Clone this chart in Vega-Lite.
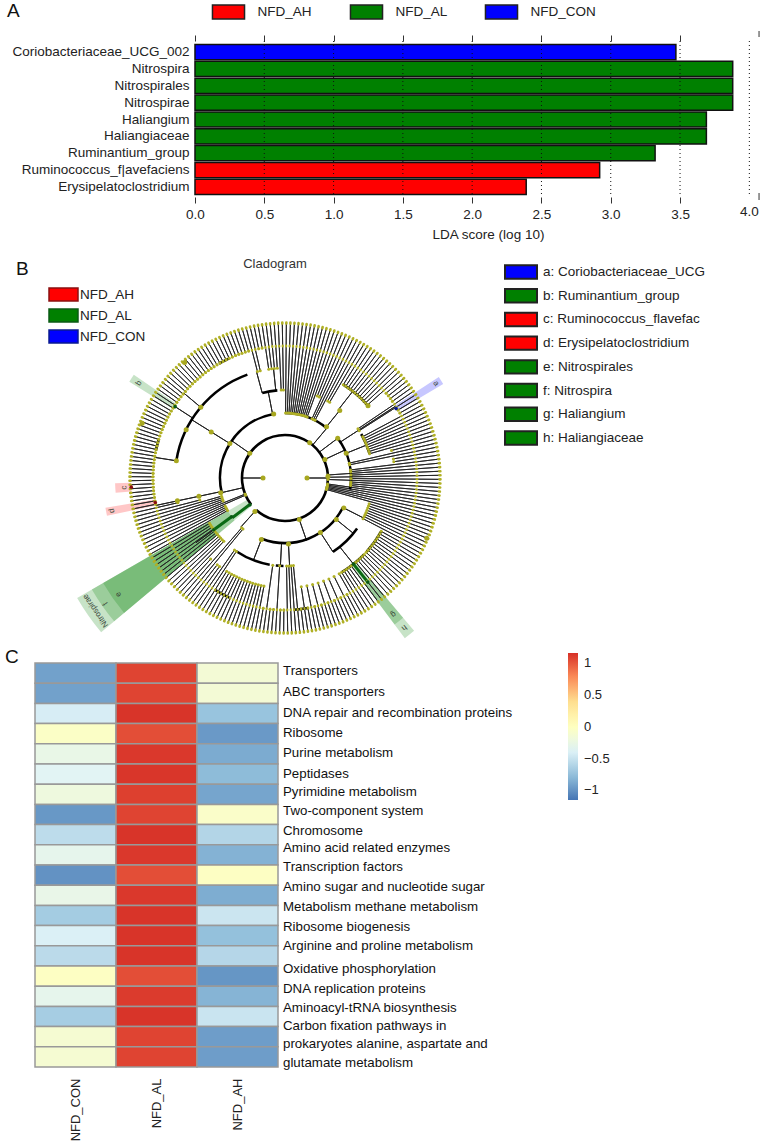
{
"$schema":"https://vega.github.io/schema/vega-lite/v6.json",
"padding":0,"background":"white","spacing":0,"bounds":"flush",
"config":{"view":{"stroke":null},"font":"Liberation Sans","axis":{"grid":false,"labelFont":"Liberation Sans","titleFont":"Liberation Sans"},"legend":{"labelFont":"Liberation Sans"},"title":{"font":"Liberation Sans"}},
"datasets":{
"lda":[{"taxon":"Coriobacteriaceae_UCG_002","score":3.47,"group":"NFD_CON"},{"taxon":"Nitrospira","score":3.88,"group":"NFD_AL"},{"taxon":"Nitrospirales","score":3.88,"group":"NFD_AL"},{"taxon":"Nitrospirae","score":3.88,"group":"NFD_AL"},{"taxon":"Haliangium","score":3.69,"group":"NFD_AL"},{"taxon":"Haliangiaceae","score":3.69,"group":"NFD_AL"},{"taxon":"Ruminantium_group","score":3.32,"group":"NFD_AL"},{"taxon":"Ruminococcus_f|avefaciens","score":2.92,"group":"NFD_AH"},{"taxon":"Erysipelatoclostridium","score":2.39,"group":"NFD_AH"}],
"ticks":[{"t":0.5},{"t":1},{"t":1.5},{"t":2},{"t":2.5},{"t":3},{"t":3.5},{"t":4}],
"wedges":[
{"a0":230,"a1":240,"r0":44,"r1":240,"group":"NFD_AL"},{"a0":230,"a1":240,"r0":66,"r1":223,"group":"NFD_AL"},{"a0":230,"a1":240,"r0":88,"r1":210,"group":"NFD_AL"},
{"a0":139.8,"a1":143.2,"r0":110,"r1":200,"group":"NFD_AL"},{"a0":139.8,"a1":143.2,"r0":133,"r1":183,"group":"NFD_AL"},
{"a0":56.7,"a1":59.3,"r0":131,"r1":184,"group":"NFD_CON"},
{"a0":301.7,"a1":304.3,"r0":131,"r1":183,"group":"NFD_AL"},
{"a0":265,"a1":268.2,"r0":154,"r1":170,"group":"NFD_AH"},
{"a0":258,"a1":260.6,"r0":132,"r1":182,"group":"NFD_AH"}],
"wedgeLabels":[{"a":58,"r":178,"t":"a"},{"a":303,"r":174,"t":"b"},{"a":266.6,"r":161,"t":"c"},{"a":259.3,"r":176,"t":"d"},{"a":235,"r":203,"t":"e"},{"a":235,"r":219,"t":"f"},{"a":235,"r":231,"t":"Nitrospirae"},{"a":141.5,"r":174,"t":"g"},{"a":141.5,"r":191,"t":"h"}],
"leaves":[{"a":0.5,"r":65},{"a":2,"r":65},{"a":3.5,"r":65},{"a":5,"r":65},{"a":6.5,"r":65},{"a":8,"r":65},{"a":9.5,"r":65},{"a":11,"r":65},{"a":12.5,"r":65},{"a":14,"r":65},{"a":15.5,"r":65},{"a":17,"r":65},{"a":18.5,"r":65},{"a":20,"r":65},{"a":21.5,"r":88},{"a":23,"r":88},{"a":24.5,"r":65},{"a":26,"r":65},{"a":27.5,"r":65},{"a":29,"r":88},
{"a":30.5,"r":88},{"a":32,"r":110},{"a":33.5,"r":110},{"a":35,"r":110},{"a":36.5,"r":110},{"a":38,"r":110},{"a":39.5,"r":110},{"a":41,"r":110},{"a":42.5,"r":110},{"a":44,"r":110},{"a":45.5,"r":110},{"a":47,"r":110},{"a":48.5,"r":110},
{"a":50,"r":132},{"a":51.5,"r":132},{"a":53,"r":132},{"a":54.5,"r":132},{"a":56,"r":88},{"a":57.5,"r":88},{"a":59,"r":132},{"a":60.5,"r":132},
{"a":62,"r":88},{"a":63.5,"r":88},{"a":65,"r":88},{"a":66.5,"r":88},{"a":68,"r":88},{"a":69.5,"r":88},{"a":71,"r":88},{"a":72.5,"r":88},{"a":74,"r":88},{"a":75.5,"r":110},
{"a":77,"r":66},{"a":78.5,"r":66},{"a":80,"r":110},{"a":81.5,"r":110},{"a":83,"r":66},{"a":84.5,"r":66},
{"a":86,"r":43},{"a":87.5,"r":66},{"a":89,"r":43},{"a":90.5,"r":66},{"a":92,"r":43},{"a":93.5,"r":66},{"a":95,"r":66},{"a":96.5,"r":66},{"a":98,"r":43},{"a":99.5,"r":43},{"a":101,"r":43},{"a":102.5,"r":43},{"a":104,"r":43},{"a":105.5,"r":43},
{"a":107,"r":88},{"a":108.5,"r":88},{"a":110,"r":88},{"a":111.5,"r":88},{"a":113,"r":88},{"a":114.5,"r":88},{"a":116,"r":88},{"a":117.5,"r":88},
{"a":119,"r":110},{"a":120.5,"r":110},{"a":122,"r":110},{"a":123.5,"r":110},{"a":125,"r":110},{"a":126.5,"r":110},{"a":128,"r":110},{"a":129.5,"r":110},{"a":131,"r":110},{"a":132.5,"r":110},{"a":134,"r":110},{"a":135.5,"r":110},{"a":137,"r":110},{"a":138.5,"r":110},{"a":140,"r":110},{"a":141.5,"r":110},{"a":143,"r":110},{"a":144.5,"r":110},{"a":146,"r":110},{"a":147.5,"r":110},{"a":149,"r":110},
{"a":150.5,"r":110},{"a":152,"r":132},{"a":153.5,"r":110},{"a":155,"r":132},{"a":156.5,"r":110},{"a":158,"r":132},{"a":159.5,"r":110},{"a":161,"r":132},{"a":162.5,"r":110},{"a":164,"r":132},{"a":165.5,"r":110},{"a":167,"r":132},{"a":168.5,"r":110},{"a":170,"r":132},{"a":171.5,"r":110},{"a":173,"r":132},{"a":174.5,"r":88},{"a":176,"r":88},{"a":177.5,"r":88},
{"a":179,"r":88},{"a":180.5,"r":132},{"a":182,"r":132},{"a":183.5,"r":88},{"a":185,"r":132},{"a":186.5,"r":132},{"a":188,"r":88},{"a":189.5,"r":132},
{"a":191,"r":110},{"a":192.5,"r":110},{"a":194,"r":110},{"a":195.5,"r":110},{"a":197,"r":110},{"a":198.5,"r":110},{"a":200,"r":110},{"a":201.5,"r":110},{"a":203,"r":110},{"a":204.5,"r":110},{"a":206,"r":110},{"a":207.5,"r":110},{"a":209,"r":110},{"a":210.5,"r":110},{"a":212,"r":110},
{"a":213.5,"r":88},{"a":215,"r":88},{"a":216.5,"r":110},{"a":218,"r":110},{"a":219.5,"r":66},{"a":221,"r":66},{"a":222.5,"r":110},{"a":224,"r":88},{"a":225.5,"r":88},{"a":227,"r":88},{"a":228.5,"r":88},{"a":230,"r":88},{"a":231.5,"r":88},
{"a":233,"r":88},{"a":234.5,"r":88},{"a":236,"r":88},{"a":237.5,"r":88},{"a":239,"r":88},{"a":240.5,"r":66},{"a":242,"r":66},{"a":243.5,"r":66},{"a":245,"r":66},
{"a":246.5,"r":43},{"a":248,"r":43},{"a":249.5,"r":66},{"a":251,"r":66},{"a":252.5,"r":66},{"a":254,"r":66},{"a":255.5,"r":88},{"a":257,"r":110},
{"a":258.5,"r":132},{"a":260,"r":132},{"a":261.5,"r":132},{"a":263,"r":132},{"a":264.5,"r":132},{"a":266,"r":132},{"a":267.5,"r":132},{"a":269,"r":132},{"a":270.5,"r":132},{"a":272,"r":132},{"a":273.5,"r":132},{"a":275,"r":132},{"a":276.5,"r":132},{"a":278,"r":132},{"a":279.5,"r":132},
{"a":281,"r":132},{"a":282.5,"r":132},{"a":284,"r":132},{"a":285.5,"r":132},{"a":287,"r":132},{"a":288.5,"r":132},{"a":290,"r":132},{"a":291.5,"r":132},{"a":293,"r":132},{"a":294.5,"r":132},{"a":296,"r":132},{"a":297.5,"r":132},{"a":299,"r":132},{"a":300.5,"r":132},{"a":302,"r":132},{"a":303.5,"r":132},{"a":305,"r":132},{"a":306.5,"r":132},{"a":308,"r":132},{"a":309.5,"r":132},{"a":311,"r":132},{"a":312.5,"r":132},{"a":314,"r":132},{"a":315.5,"r":132},{"a":317,"r":132},{"a":318.5,"r":132},{"a":320,"r":132},{"a":321.5,"r":132},{"a":323,"r":132},{"a":324.5,"r":132},{"a":326,"r":132},{"a":327.5,"r":132},{"a":329,"r":132},{"a":330.5,"r":132},{"a":332,"r":132},{"a":333.5,"r":132},{"a":335,"r":132},{"a":336.5,"r":132},{"a":338,"r":132},{"a":339.5,"r":132},{"a":341,"r":132},{"a":342.5,"r":132},{"a":344,"r":132},
{"a":345.5,"r":110},{"a":347,"r":110},{"a":348.5,"r":132},{"a":350,"r":132},{"a":351.5,"r":110},{"a":353,"r":110},{"a":354.5,"r":110},{"a":356,"r":110},{"a":357.5,"r":88},{"a":359,"r":88}],
"links":[{"a":90,"r0":22,"r1":43},{"a":270,"r0":22,"r1":43},{"a":305,"r0":43,"r1":65},{"a":302,"r0":65,"r1":87},{"a":302,"r0":87,"r1":110},{"a":349,"r0":65,"r1":88},{"a":345,"r0":88,"r1":110},{"a":354,"r0":88,"r1":110},{"a":40,"r0":43,"r1":65},{"a":39,"r0":65,"r1":88},{"a":38,"r0":88,"r1":110},{"a":161,"r0":43,"r1":66},{"a":177,"r0":66,"r1":88},{"a":147,"r0":65,"r1":88},{"a":129,"r0":66,"r1":88},{"a":117,"r0":66,"r1":88},{"a":201,"r0":66,"r1":88},{"a":183,"r0":66,"r1":88},{"a":257,"r0":43,"r1":66},{"a":258,"r0":66,"r1":110},{"a":258,"r0":110,"r1":132},{"a":65,"r0":43,"r1":66},{"a":68,"r0":66,"r1":88},{"a":53,"r0":43,"r1":66},{"a":57,"r0":66,"r1":132},{"a":222,"r0":43,"r1":66},{"a":279,"r0":110,"r1":132},{"a":310,"r0":110,"r1":132},{"a":303,"r0":110,"r1":132},{"a":141.5,"r0":88,"r1":110},{"a":234,"r0":88,"r1":110}],
"rings":[{"a0":232,"a1":360,"r":43},{"a0":0,"a1":222,"r":43},{"a0":256,"a1":350,"r":65},{"a0":117,"a1":201,"r":65},{"a0":53,"a1":100,"r":66},{"a0":0,"a1":40,"r":65},{"a0":125,"a1":147,"r":88},{"a0":190,"a1":214,"r":88},{"a0":345,"a1":355,"r":88},{"a0":60,"a1":74,"r":88},{"a0":181,"a1":186,"r":88},{"a0":279,"a1":340,"r":110},{"a0":32,"a1":48,"r":110},{"a0":119,"a1":132,"r":110},{"a0":134,"a1":149,"r":110},{"a0":205,"a1":212,"r":132},{"a0":282,"a1":287,"r":132},{"a0":330,"a1":335,"r":132},{"a0":170,"a1":176,"r":132}],
"nodes":[{"a":90,"r":22},{"a":270,"r":22},{"a":305,"r":43},{"a":35,"r":43},{"a":39,"r":87},{"a":39,"r":66},{"a":302,"r":65},{"a":302,"r":87},{"a":310,"r":110},{"a":296,"r":110},{"a":279,"r":110},{"a":350,"r":65},{"a":161,"r":44},{"a":177,"r":66},{"a":201,"r":66},{"a":147,"r":65},{"a":129,"r":66},{"a":117,"r":66},{"a":222,"r":45},{"a":257,"r":66},{"a":258,"r":88},{"a":258,"r":110},{"a":65,"r":44},{"a":68,"r":66},{"a":53,"r":66},{"a":88,"r":43},{"a":49,"r":110},{"a":319,"r":153},{"a":113,"r":154},{"a":291,"r":153}],
"hits":[{"a":58,"r":131,"group":"NFD_CON"},{"a":303,"r":131,"group":"NFD_AL"},{"a":266.6,"r":154,"group":"NFD_AH"},{"a":259.3,"r":132,"group":"NFD_AH"},{"a":232.6,"r":44,"group":"NFD_AL"},{"a":234,"r":66,"group":"NFD_AL"},{"a":234,"r":88,"group":"NFD_AL"},{"a":141.5,"r":110,"group":"NFD_AL"},{"a":141.5,"r":133,"group":"NFD_AL"}],
"hitLinks":[{"a":233,"r0":44,"r1":66},{"a":234,"r0":66,"r1":88},{"a":141.5,"r0":110,"r1":133}],
"clades":[{"label":"a: Coriobacteriaceae_UCG","group":"NFD_CON"},{"label":"b: Ruminantium_group","group":"NFD_AL"},{"label":"c: Ruminococcus_flavefac","group":"NFD_AH"},{"label":"d: Erysipelatoclostridium","group":"NFD_AH"},{"label":"e: Nitrospirales","group":"NFD_AL"},{"label":"f: Nitrospira","group":"NFD_AL"},{"label":"g: Haliangium","group":"NFD_AL"},{"label":"h: Haliangiaceae","group":"NFD_AL"}],
"heat":[
{"row":"Transporters","NFD_CON":-0.92,"NFD_AL":1.08,"NFD_AH":-0.14},
{"row":"ABC transporters","NFD_CON":-0.92,"NFD_AL":1.08,"NFD_AH":-0.14},
{"row":"DNA repair and recombination proteins","NFD_CON":-0.42,"NFD_AL":1.15,"NFD_AH":-0.73},
{"row":"Ribosome","NFD_CON":-0.04,"NFD_AL":1.04,"NFD_AH":-0.96},
{"row":"Purine metabolism","NFD_CON":-0.26,"NFD_AL":1.13,"NFD_AH":-0.87},
{"row":"Peptidases","NFD_CON":-0.35,"NFD_AL":1.14,"NFD_AH":-0.78},
{"row":"Pyrimidine metabolism","NFD_CON":-0.2,"NFD_AL":1.1,"NFD_AH":-0.9},
{"row":"Two-component system","NFD_CON":-0.97,"NFD_AL":1.08,"NFD_AH":-0.06},
{"row":"Chromosome","NFD_CON":-0.55,"NFD_AL":1.15,"NFD_AH":-0.6},
{"row":"Amino acid related enzymes","NFD_CON":-0.3,"NFD_AL":1.13,"NFD_AH":-0.83},
{"row":"Transcription factors","NFD_CON":-1.0,"NFD_AL":1.04,"NFD_AH":-0.02},
{"row":"Amino sugar and nucleotide sugar","NFD_CON":-0.27,"NFD_AL":1.13,"NFD_AH":-0.86},
{"row":"Metabolism methane metabolism","NFD_CON":-0.67,"NFD_AL":1.15,"NFD_AH":-0.48},
{"row":"Ribosome biogenesis","NFD_CON":-0.4,"NFD_AL":1.15,"NFD_AH":-0.75},
{"row":"Arginine and proline metabolism","NFD_CON":-0.56,"NFD_AL":1.15,"NFD_AH":-0.59},
{"row":"Oxidative phosphorylation","NFD_CON":-0.02,"NFD_AL":1.04,"NFD_AH":-0.98},
{"row":"DNA replication proteins","NFD_CON":-0.3,"NFD_AL":1.12,"NFD_AH":-0.82},
{"row":"Aminoacyl-tRNA biosynthesis","NFD_CON":-0.66,"NFD_AL":1.15,"NFD_AH":-0.49},
{"row":"Carbon fixation pathways in prokaryotes","NFD_CON":-0.12,"NFD_AL":1.08,"NFD_AH":-0.94},
{"row":"Alanine, aspartate and glutamate metabolism","NFD_CON":-0.12,"NFD_AL":1.08,"NFD_AH":-0.94}],
"rowLabels":[{"t":"Transporters","p":0.4},{"t":"ABC transporters","p":1.44},{"t":"DNA repair and recombination proteins","p":2.48},{"t":"Ribosome","p":3.47},{"t":"Purine metabolism","p":4.46},{"t":"Peptidases","p":5.5},{"t":"Pyrimidine metabolism","p":6.39},{"t":"Two-component system","p":7.33},{"t":"Chromosome","p":8.32},{"t":"Amino acid related enzymes","p":9.16},{"t":"Transcription factors","p":10.1},{"t":"Amino sugar and nucleotide sugar","p":11.09},{"t":"Metabolism methane metabolism","p":12.08},{"t":"Ribosome biogenesis","p":13.07},{"t":"Arginine and proline metabolism","p":14.01},{"t":"Oxidative phosphorylation","p":15.15},{"t":"DNA replication proteins","p":16.14},{"t":"Aminoacyl-tRNA biosynthesis","p":17.08},{"t":"Carbon fixation pathways in","p":17.97},{"t":"prokaryotes alanine, aspartate and","p":18.86},{"t":"glutamate metabolism","p":19.8}]
},
"vconcat":[
{"width":765,"height":250,
"title":{"text":"A","anchor":"start","frame":"group","offset":-21,"dx":7,"fontSize":19,"fontWeight":"normal","color":"#111"},
"resolve":{"axis":{"x":"independent"}},
"layer":[
{"data":{"name":"lda"},"mark":{"type":"bar","stroke":"#111","strokeWidth":1.5},
"encoding":{
"x":{"field":"score","type":"quantitative","scale":{"domain":[-1.407,4.113],"nice":false,"zero":false},
"axis":{"orient":"bottom","offset":-53,"values":[0,0.5,1,1.5,2,2.5,3,3.5],"format":".1f","domain":false,"tickSize":6,"tickColor":"#333","labelFontSize":13.5,"labelColor":"#222","labelPadding":4,"title":"LDA score (log 10)","titleFontSize":13.5,"titleFontWeight":"normal","titleColor":"#222","titleX":488,"titleY":30}},
"y":{"field":"taxon","type":"nominal","sort":null,"scale":{"range":[44,195],"paddingInner":0.1,"paddingOuter":0.03},
"axis":{"orient":"left","offset":-195,"title":null,"domain":false,"ticks":false,"labelPadding":6,"labelFontSize":13.5,"labelColor":"#222","labelLimit":220}},
"color":{"field":"group","type":"nominal","scale":{"domain":["NFD_AH","NFD_AL","NFD_CON"],"range":["#ff0000","#008000","#0000ff"]},
"legend":{"orient":"none","legendX":220.5,"legendY":4,"direction":"horizontal","columns":3,"title":null,"symbolType":"M-2.29,-1H2.29V1H-2.29Z","symbolSize":196,"symbolStrokeColor":"#222","symbolStrokeWidth":1.5,"symbolOpacity":1,"labelFontSize":13.5,"labelColor":"#222","labelOffset":21,"columnPadding":34}}}},
{"data":{"name":"ticks"},"mark":{"type":"rule","stroke":"#111","strokeWidth":1,"strokeDash":[1,3]},
"encoding":{"x":{"field":"t","type":"quantitative","scale":{"domain":[-1.407,4.113],"nice":false,"zero":false},
"axis":{"orient":"top","offset":-41,"values":[0,0.5,1,1.5,2,2.5,3,3.5],"labels":false,"domain":false,"tickSize":6,"tickColor":"#333","title":null}},
"y":{"value":41},"y2":{"value":196}}},
{"data":{"values":[{"v":4.07,"k":"upper"}]},"mark":{"type":"rule","stroke":"#333","strokeWidth":1},
"encoding":{"x":{"field":"v","type":"quantitative","axis":null},"y":{"value":31},"y2":{"value":37}}},
{"data":{"values":[{"v":4.07,"k":"lower"}]},"mark":{"type":"rule","stroke":"#333","strokeWidth":1},
"encoding":{"x":{"field":"v","type":"quantitative","axis":null},"y":{"value":193},"y2":{"value":200}}},
{"data":{"values":[{"v":4,"t":"4.0"}]},"mark":{"type":"text","fontSize":13.5,"color":"#222"},
"encoding":{"x":{"field":"v","type":"quantitative","axis":null},"y":{"value":212},"text":{"field":"t"}}}
]},
{"width":765,"height":390,
"title":{"text":"B","anchor":"start","frame":"group","offset":-29,"dx":16,"fontSize":19,"fontWeight":"normal","color":"#111"},
"layer":[
{"data":{"name":"wedges"},"mark":{"type":"arc","fillOpacity":0.22},
"encoding":{"x":{"value":285},"y":{"value":228},
"theta":{"field":"a0","type":"quantitative","stack":null,"scale":{"domain":[0,360],"range":[0,6.28319]}},"theta2":{"field":"a1"},
"radius":{"field":"r0","type":"quantitative","scale":{"type":"linear","domain":[0,300],"range":[0,300]}},"radius2":{"field":"r1"},
"fill":{"field":"group","type":"nominal","scale":{"domain":["NFD_AH","NFD_AL","NFD_CON"],"range":["#ff0000","#008000","#0000ff"]},
"legend":{"orient":"none","legendX":56,"legendY":287,"direction":"vertical","title":null,"symbolType":"M-2.23,-1H2.23V1H-2.23Z","symbolSize":169,"symbolStrokeColor":"#333","symbolStrokeWidth":1.5,"symbolOpacity":1,"labelFontSize":13.5,"labelColor":"#222","labelOffset":9,"rowPadding":2}}}},
{"data":{"name":"leaves"},"mark":{"type":"arc","stroke":"#222","strokeWidth":0.9,"fillOpacity":0},
"encoding":{"x":{"value":285},"y":{"value":228},"theta":{"field":"a","type":"quantitative","stack":null,"scale":{"domain":[0,360],"range":[0,6.28319]}},"theta2":{"field":"a"},
"radius":{"field":"r","type":"quantitative","scale":{"type":"linear","domain":[0,300],"range":[0,300]}},"radius2":{"datum":155}}},
{"data":{"name":"links"},"mark":{"type":"arc","stroke":"#222","strokeWidth":1,"fillOpacity":0},
"encoding":{"x":{"value":285},"y":{"value":228},"theta":{"field":"a","type":"quantitative","stack":null,"scale":{"domain":[0,360],"range":[0,6.28319]}},"theta2":{"field":"a"},
"radius":{"field":"r0","type":"quantitative","scale":{"type":"linear","domain":[0,300],"range":[0,300]}},"radius2":{"field":"r1"}}},
{"data":{"name":"rings"},"mark":{"type":"arc","stroke":"#000","strokeWidth":2.6,"fillOpacity":0},
"encoding":{"x":{"value":285},"y":{"value":228},"theta":{"field":"a0","type":"quantitative","stack":null,"scale":{"domain":[0,360],"range":[0,6.28319]}},"theta2":{"field":"a1"},
"radius":{"field":"r","type":"quantitative","scale":{"type":"linear","domain":[0,300],"range":[0,300]}},"radius2":{"field":"r"}}},
{"data":{"name":"hitLinks"},"mark":{"type":"arc","stroke":"#0a6a14","strokeWidth":3,"fillOpacity":0},
"encoding":{"x":{"value":285},"y":{"value":228},"theta":{"field":"a","type":"quantitative","stack":null,"scale":{"domain":[0,360],"range":[0,6.28319]}},"theta2":{"field":"a"},
"radius":{"field":"r0","type":"quantitative","scale":{"type":"linear","domain":[0,300],"range":[0,300]}},"radius2":{"field":"r1"}}},
{"data":{"name":"leaves"},"mark":{"type":"arc","stroke":"#b0b025","strokeWidth":2.6,"strokeCap":"round","strokeJoin":"round","fillOpacity":0},
"encoding":{"x":{"value":285},"y":{"value":228},"theta":{"field":"a","type":"quantitative","stack":null,"scale":{"domain":[0,360],"range":[0,6.28319]}},"theta2":{"field":"a"},
"radius":{"datum":154.5,"type":"quantitative","scale":{"type":"linear","domain":[0,300],"range":[0,300]}},"radius2":{"datum":155.5}}},
{"data":{"name":"leaves"},"mark":{"type":"arc","stroke":"#b0b025","strokeWidth":2.2,"strokeCap":"round","strokeJoin":"round","fillOpacity":0},
"encoding":{"x":{"value":285},"y":{"value":228},"theta":{"field":"a","type":"quantitative","stack":null,"scale":{"domain":[0,360],"range":[0,6.28319]}},"theta2":{"field":"a"},
"radius":{"datum":131.6,"type":"quantitative","scale":{"type":"linear","domain":[0,300],"range":[0,300]}},"radius2":{"datum":132.4}}},
{"data":{"name":"leaves"},"mark":{"type":"arc","stroke":"#b0b025","strokeWidth":3,"strokeCap":"round","strokeJoin":"round","fillOpacity":0},
"encoding":{"x":{"value":285},"y":{"value":228},"theta":{"field":"a","type":"quantitative","stack":null,"scale":{"domain":[0,360],"range":[0,6.28319]}},"theta2":{"field":"a"},
"radius":{"field":"r","type":"quantitative","scale":{"type":"linear","domain":[0,300],"range":[0,300]}},"radius2":{"field":"r"}}},
{"data":{"name":"nodes"},"mark":{"type":"arc","stroke":"#a8a820","strokeWidth":5,"strokeCap":"round","strokeJoin":"round","fillOpacity":0},
"encoding":{"x":{"value":285},"y":{"value":228},"theta":{"field":"a","type":"quantitative","stack":null,"scale":{"domain":[0,360],"range":[0,6.28319]}},"theta2":{"field":"a"},
"radius":{"field":"r","type":"quantitative","scale":{"type":"linear","domain":[0,300],"range":[0,300]}},"radius2":{"field":"r"}}},
{"data":{"name":"hits"},"mark":{"type":"arc","strokeWidth":3.6,"strokeCap":"round","strokeJoin":"round","fillOpacity":0},
"encoding":{"x":{"value":285},"y":{"value":228},"theta":{"field":"a","type":"quantitative","stack":null,"scale":{"domain":[0,360],"range":[0,6.28319]}},"theta2":{"field":"a"},
"radius":{"field":"r","type":"quantitative","scale":{"type":"linear","domain":[0,300],"range":[0,300]}},"radius2":{"field":"r"},
"stroke":{"field":"group","type":"nominal","scale":{"domain":["NFD_AH","NFD_AL","NFD_CON"],"range":["#8a1010","#0a5a14","#0a1a90"]},"legend":null}}},
{"data":{"name":"wedgeLabels"},"mark":{"type":"text","fontSize":8,"color":"#3c4a3c"},
"encoding":{"x":{"value":285},"y":{"value":228},"theta":{"field":"a","type":"quantitative","stack":null,"scale":{"domain":[0,360],"range":[0,6.28319]}},
"radius":{"field":"r","type":"quantitative","scale":{"type":"linear","domain":[0,300],"range":[0,300]}},
"angle":{"field":"a","type":"quantitative","scale":null},"text":{"field":"t"}}},
{"data":{"values":[{"t":"Cladogram"}]},"mark":{"type":"text","fontSize":13,"color":"#333"},
"encoding":{"x":{"value":275},"y":{"value":14},"text":{"field":"t"}}},
{"data":{"name":"clades"},"mark":{"type":"point","shape":"M-1,-0.42H1V0.42H-1Z","size":1024,"filled":true,"opacity":1,"stroke":"#222","strokeWidth":2},
"encoding":{"x":{"value":521},"y":{"field":"label","type":"ordinal","sort":null,"axis":null,"scale":{"type":"point","range":[22,188],"padding":0}},
"fill":{"field":"group","type":"nominal","legend":null}}},
{"data":{"name":"clades"},"mark":{"type":"text","align":"left","fontSize":13.5,"color":"#222"},
"encoding":{"x":{"value":543},"y":{"field":"label","type":"ordinal","sort":null,"axis":null,"scale":{"type":"point","range":[22,188],"padding":0}},"text":{"field":"label"}}}
]},
{"width":765,"height":507,
"title":{"text":"C","anchor":"start","frame":"group","offset":-27,"dx":5,"fontSize":19,"fontWeight":"normal","color":"#111"},
"resolve":{"scale":{"y":"independent"}},
"layer":[
{"data":{"name":"heat"},"transform":[{"fold":["NFD_CON","NFD_AL","NFD_AH"],"as":["col","z"]}],
"mark":{"type":"rect","stroke":"#999","strokeWidth":1.5},
"encoding":{
"x":{"field":"col","type":"nominal","sort":null,"scale":{"domain":["NFD_CON","NFD_AL","NFD_AH"],"range":[35,278],"paddingInner":0,"paddingOuter":0},
"axis":{"orient":"bottom","offset":-75,"title":null,"domain":false,"ticks":false,"labelAngle":-90,"labelPadding":6,"labelFontSize":13,"labelColor":"#222"}},
"y":{"field":"row","type":"nominal","sort":null,"axis":null,"scale":{"range":[23,427],"paddingInner":0,"paddingOuter":0}},
"color":{"field":"z","type":"quantitative","scale":{"domain":[-1.15,-0.764,-0.378,0.0075,0.393,0.779,1.165],"range":["#4575B4","#91BFDB","#E0F3F8","#FFFFBF","#FEE090","#FC8D59","#D73027"],"interpolate":"rgb"},
"legend":{"orient":"none","legendX":568,"legendY":13,"direction":"vertical","title":null,"gradientLength":147,"gradientThickness":10,"values":[-1,-0.5,0,0.5,1],"format":"~g","labelFontSize":13,"labelColor":"#222","labelOffset":6,"gradientStrokeWidth":0}}}},
{"data":{"name":"rowLabels"},"mark":{"type":"text","align":"left","fontSize":13.3,"color":"#111"},
"encoding":{"x":{"value":283},"y":{"field":"p","type":"quantitative","axis":null,"scale":{"domain":[0,20],"range":[23,427],"nice":false,"zero":false}},"text":{"field":"t"}}}
]}
]
}
